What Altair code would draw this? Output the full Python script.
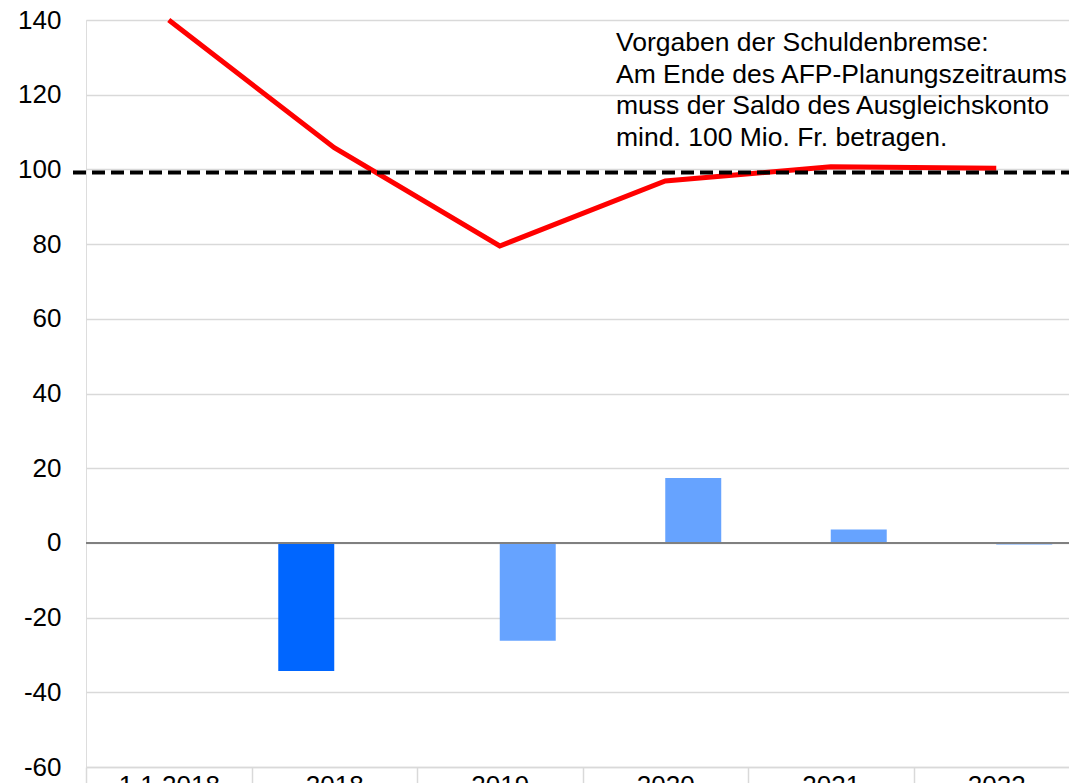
import altair as alt
import pandas as pd

# ---- data ----
categories = ["1.1.2018", "2018", "2019", "2020", "2021", "2022"]
saldo = [140, 105.8, 79.5, 96.9, 100.7, 100.3]

bar_categories = ["2018", "2019", "2020", "2021", "2022"]
bar_series = ["Rechnung", "Budget/AFP", "Budget/AFP", "Budget/AFP", "Budget/AFP"]
bar_values = [-34.3, -26.2, 17.4, 3.6, -0.4]

series_names = ["Rechnung", "Budget/AFP"]
series_colors = ["#0066FF", "#66A3FF"]

target_value = [99.2]
y_ticks = [-60, -40, -20, 0, 20, 40, 60, 80, 100, 120, 140]
note_lines = [
    "Vorgaben der Schuldenbremse:",
    "Am Ende des AFP-Planungszeitraums",
    "muss der Saldo des Ausgleichskonto",
    "mind. 100 Mio. Fr. betragen.",
]

FONT = "Liberation Sans"
W, H = 993, 747

line_df = pd.DataFrame({"cat": categories, "value": saldo})
bar_df = pd.DataFrame({"cat": bar_categories, "series": bar_series, "value": bar_values})
target_df = pd.DataFrame({"value": target_value})
note_df = pd.DataFrame({"note": ["\n".join(note_lines)]})

x_scale = alt.Scale(domain=categories, paddingInner=0, paddingOuter=0)
y_scale = alt.Scale(domain=[-60, 140], nice=False, zero=False)

x_axis = alt.Axis(
    title=None, labelAngle=0, labelFontSize=26, labelFont=FONT, labelColor="black",
    domainColor="#d9d9d9", domainWidth=1.5, tickBand="extent", tickColor="#d9d9d9",
    tickWidth=1.5, tickSize=30, labelPadding=-25, grid=False,
)
y_axis = alt.Axis(
    title=None, values=y_ticks, labelFontSize=26, labelFont=FONT, labelColor="black",
    labelExpr="'' + datum.value",
    domain=False, ticks=False, labelPadding=25, grid=True, gridColor="#d9d9d9", gridWidth=1.3,
)

bars = alt.Chart(bar_df).mark_bar().encode(
    x=alt.X("cat:N", scale=x_scale, axis=x_axis, sort=categories),
    xOffset=alt.XOffset("series:N", scale=alt.Scale(domain=series_names, paddingInner=0, paddingOuter=0.478)),
    y=alt.Y("value:Q", scale=y_scale, axis=y_axis),
    color=alt.Color("series:N", scale=alt.Scale(domain=series_names, range=series_colors), legend=None),
)

zero = alt.Chart(target_df).mark_rule(color="#808080", strokeWidth=2).encode(
    y=alt.Y(datum=0, scale=y_scale)
)

line = alt.Chart(line_df).mark_line(color="#FF0000", strokeWidth=5).encode(
    x=alt.X("cat:N", scale=x_scale, sort=categories),
    y=alt.Y("value:Q", scale=y_scale),
)

target = alt.Chart(target_df).mark_rule(color="black", strokeWidth=4, strokeDash=[13, 6]).encode(
    y=alt.Y("value:Q", scale=y_scale),
    x=alt.value(-13),
    x2=alt.value(W + 10),
)

note = alt.Chart(note_df).mark_text(
    align="left", baseline="top", fontSize=26.5, font=FONT, color="black",
    lineBreak="\n", lineHeight=31.5,
).encode(
    text="note:N",
    x=alt.value(530),
    y=alt.value(10),
)

chart = alt.layer(bars, zero, line, target, note).properties(
    width=W, height=H,
    autosize=alt.AutoSizeParams(type="none"),
    padding={"left": 78, "top": 12, "right": -10, "bottom": 40},
).configure_view(stroke=None).configure(font=FONT)

chart.save("out.html", embed_options={"renderer": "svg", "actions": False})
